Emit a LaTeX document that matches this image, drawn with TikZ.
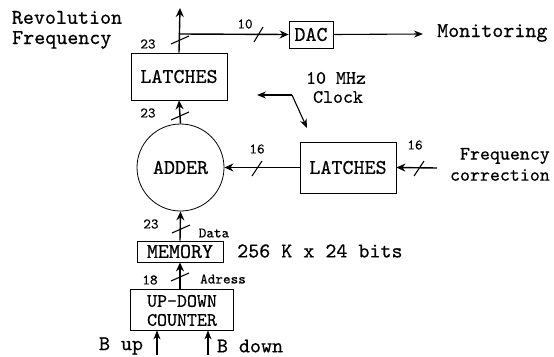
\documentclass[tikz,border=0pt]{standalone}
\usepackage{fontspec}
\newfontfamily\tw{lmmono10-regular}[Extension=.otf, FakeBold=0.5]
\usetikzlibrary{arrows.meta}
\begin{document}
\begin{tikzpicture}[x=1pt,y=-1pt,
  big/.style={font=\tw\fontsize{21}{19}\selectfont, inner sep=0pt},
  mid/.style={font=\tw\fontsize{19}{19}\selectfont, inner sep=0pt},
  small/.style={font=\tw\fontsize{14.5}{15}\selectfont, inner sep=0pt},
  blk/.style={draw, line width=0.8pt, inner sep=0pt, font=\tw\fontsize{21}{19}\selectfont},
  bus/.style={line width=1.4pt, -{Stealth[length=9pt,width=8pt]}},
  thin arrow/.style={line width=1.1pt, -{Stealth[length=9pt,width=7pt]}},
  slash/.style={line width=1.1pt},
]
\useasboundingbox (0,0) rectangle (554,356);

% blocks
\node[blk, minimum width=96pt, minimum height=47pt] (lt) at (179,76.5) {LATCHES};
\node[blk, minimum width=44pt, minimum height=27pt] (dac) at (311,34.5) {DAC};
\node[blk, circle, minimum size=87pt] (adder) at (180.5,167.5) {ADDER};
\node[blk, minimum width=96pt, minimum height=51pt] (lb) at (348,167.5) {LATCHES};
\node[blk, minimum width=86pt, minimum height=21pt] (mem) at (180,251.5) {MEMORY};
\node[blk, minimum width=103pt, minimum height=41pt] (cnt) at (181.5,309.5) {};
\node[mid] (cnt1) at (182,301) {UP-DOWN};
\node[mid] (cnt2) at (182,320) {COUNTER};

% texts
\node[big] (rev1) at (67,17.5) {Revolution};
\node[big, anchor=west] (rev2) at (12,40) {Frequency};
\node[big, anchor=west] (mon) at (437,33) {Monitoring};
\node[mid] (clk1) at (336,78) {10 MHz};
\node[mid] (clk2) at (338,97) {Clock};
\node[mid, anchor=east] (fc1) at (550,156) {Frequency};
\node[mid, anchor=east] (fc2) at (550,175) {correction};
\node[big, anchor=west] (size) at (237,251) {256 K x 24 bits};
\node[big] (bup) at (121,346) {B up};
\node[big] (bdown) at (250,346) {B down};

\node[small] (n10) at (245,24) {10};
\node[small] (n23a) at (148,44) {23};
\node[small] (n23b) at (148,113) {23};
\node[small] (n16a) at (257,149) {16};
\node[small] (n16b) at (415,145) {16};
\node[small] (n23c) at (151,224) {23};
\node[small] (data) at (214,233) {Data};
\node[small] (n18) at (150,280) {18};
\node[small] (adr) at (223,279) {Adress};

% coordinates
\coordinate (top) at (180,8);
\coordinate (j) at (180,34);
\coordinate (monend) at (423,34);
\coordinate (fcin) at (437,168);
\coordinate (ck) at (292,95);
\coordinate (ckl) at (257,95);
\coordinate (ckd) at (307,128);
\coordinate (bu) at (157,355);
\coordinate (bd) at (208,355);

% connectors
\draw[bus] (lt.north) -- (top);
\draw[bus] (j) -- (dac.west);
\draw[thin arrow] (dac.east) -- (monend);
\draw[bus] (adder.north) -- (lt.south);
\draw[bus] (lb.west) -- (adder.east);
\draw[bus] (fcin) -- (lb.east);
\draw[bus] (mem.north) -- (adder.south);
\draw[bus] (cnt.north -| mem.north) -- (mem.south);
\draw[thin arrow] (ck) -- (ckl);
\draw[thin arrow] (ck) -- (ckd);
\draw[thin arrow] (bu) -- (bu |- cnt.south);
\draw[thin arrow] (bd) -- (bd |- cnt.south);

% bus-width slashes
\draw[slash] (171,44) -- (189,36);
\draw[slash] (254,42) -- (263,27);
\draw[slash] (171,120) -- (189,112);
\draw[slash] (252,176) -- (262,161);
\draw[slash] (414,176) -- (424,161);
\draw[slash] (172,233) -- (190,225);
\draw[slash] (171,281) -- (189,273);
\end{tikzpicture}
\end{document}
